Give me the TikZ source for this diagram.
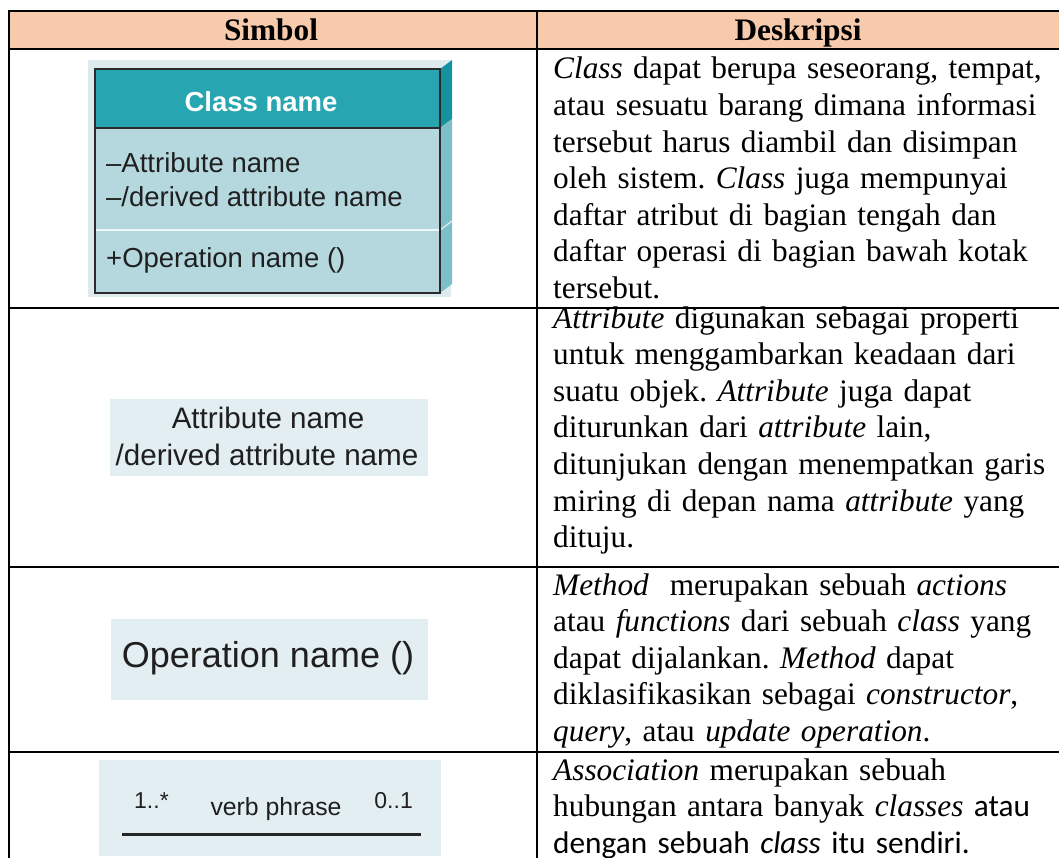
\documentclass[tikz,border=0pt]{standalone}
\usepackage{fontspec}
\setmainfont{Liberation Serif}
\newfontfamily\arial{Liberation Sans}
\newfontfamily\carlito{Carlito}
\definecolor{kepala}{HTML}{F7CAAC}
\definecolor{tosca}{HTML}{27A6B1}
\definecolor{toscagelap}{HTML}{14939F}
\definecolor{toscamuda}{HTML}{B5D8DE}
\definecolor{sisi}{HTML}{7DBFC8}
\definecolor{latar}{HTML}{DDEBEE}
\definecolor{latarmuda}{HTML}{E2EEF1}
\definecolor{garisbox}{HTML}{2B2B2B}
\frenchspacing
\begin{document}
\begin{tikzpicture}[x=1pt, y=-1pt,
	garis/.style={line width=2.3pt, line cap=rect},
	teks/.style={anchor=base west, inner sep=0pt, text width=505pt, align=left,
		font=\fontsize{31.3}{36.6}\selectfont},
	judul/.style={anchor=base, inner sep=0pt, font=\fontsize{31.3}{36.6}\selectfont\bfseries},
	sans/.style={inner sep=0pt, text=black!88}]
		\useasboundingbox (0,0) rectangle (1059,858);
		% Kepala tabel
		\fill [kepala] (9,11) rectangle (1070,49);
		\node [judul] (kolom1) at (271,41) {Simbol};
		\node [judul] (kolom2) at (798,41) {Deskripsi};
		% Garis tabel
		\draw [garis] (9,11) -- (1070,11);
		\draw [garis] (9,49) -- (1070,49);
		\draw [garis] (9,308) -- (1070,308);
		\draw [garis] (9,567) -- (1070,567);
		\draw [garis] (9,752) -- (1070,752);
		\draw [garis] (9,11) -- (9,870);
		\draw [garis] (537,11) -- (537,870);
		% Simbol class
		\fill [latar] (88,60) rectangle (451,297);
		\fill [toscagelap] (440,69) -- (452,60) -- (452,119) -- (440,128) -- cycle;
		\fill [sisi] (440,128) -- (452,119) -- (452,284) -- (440,293) -- cycle;
		\draw [white!75!sisi, line width=1.2pt] (440,230) -- (452,221);
		\fill [tosca] (95,69) rectangle (440,128);
		\fill [toscamuda] (95,128) rectangle (440,293);
		\draw [white!80!toscamuda, line width=1.5pt] (96,230) -- (439,230);
		\draw [garisbox, line width=2.5pt] (95,69) rectangle (440,293);
		\draw [garisbox, line width=2.5pt] (95,128) -- (440,128);
		\node [sans, anchor=base, text=white, font=\arial\bfseries\fontsize{27.5}{30}\selectfont] (namakelas) at (261,112) {Class name};
		\node [sans, anchor=base west, font=\arial\fontsize{27.5}{34}\selectfont] (atributkelas) at (106,173) {–Attribute name};
		\node [sans, anchor=base west, font=\arial\fontsize{27.5}{34}\selectfont] (turunankelas) at (106,207) {–/derived attribute name};
		\node [sans, anchor=base west, font=\arial\fontsize{27.5}{34}\selectfont] (operasikelas) at (106,268) {+Operation name ()};
		% Simbol attribute
		\fill [latarmuda] (110,399) rectangle (428,476);
		\node [sans, anchor=base, font=\arial\fontsize{29.6}{37}\selectfont] (atribut) at (268,428) {Attribute name};
		\node [sans, anchor=base, font=\arial\fontsize{29.6}{37}\selectfont] (turunan) at (267,465) {/derived attribute name};
		% Simbol operation
		\fill [latarmuda] (111,619) rectangle (428,700);
		\node [sans, anchor=base, font=\arial\fontsize{36}{40}\selectfont] (operasi) at (268,667) {Operation name ()};
		% Simbol association
		\fill [latarmuda] (99,760) rectangle (441,856);
		\coordinate (ujungkiri) at (122,834);
		\coordinate (ujungkanan) at (421,834);
		\draw [black!85, line width=3pt] (ujungkiri) -- (ujungkanan);
		\node [sans, anchor=base west, font=\arial\fontsize{23}{26}\selectfont] (multi1) at (134,808) {1..*};
		\node [sans, anchor=base, font=\arial\fontsize{24.8}{28}\selectfont] (frasa) at (276,815) {verb phrase};
		\node [sans, anchor=base east, font=\arial\fontsize{23}{26}\selectfont] (multi2) at (413,808) {0..1};
		% Deskripsi
		\node [teks] (desk1) at (553,79) {\textit{Class} dapat berupa seseorang, tempat,\\
			atau sesuatu barang dimana informasi\\
			tersebut harus diambil dan disimpan\\
			oleh sistem. \textit{Class} juga mempunyai\\
			daftar atribut di bagian tengah dan\\
			daftar operasi di bagian bawah kotak\\
			tersebut.};
		\node [teks] (desk2) at (553,328) {\textit{Attribute} digunakan sebagai properti\\
			untuk menggambarkan keadaan dari\\
			suatu objek. \textit{Attribute} juga dapat\\
			diturunkan dari \textit{attribute} lain,\\
			ditunjukan dengan menempatkan garis\\
			miring di depan nama \textit{attribute} yang\\
			dituju.};
		\node [teks] (desk3) at (553,595) {\textit{Method}\ \ merupakan sebuah \textit{actions}\\
			atau \textit{functions} dari sebuah \textit{class} yang\\
			dapat dijalankan. \textit{Method} dapat\\
			diklasifikasikan sebagai \textit{constructor},\\
			\textit{query}, atau \textit{update operation}.};
		\node [teks] (desk4) at (553,780) {\textit{Association} merupakan sebuah\\
			hubungan antara banyak \textit{classes} {\carlito atau}\\
			{\carlito dengan sebuah \textit{class} itu sendiri.}};
	\end{tikzpicture}
\end{document}
